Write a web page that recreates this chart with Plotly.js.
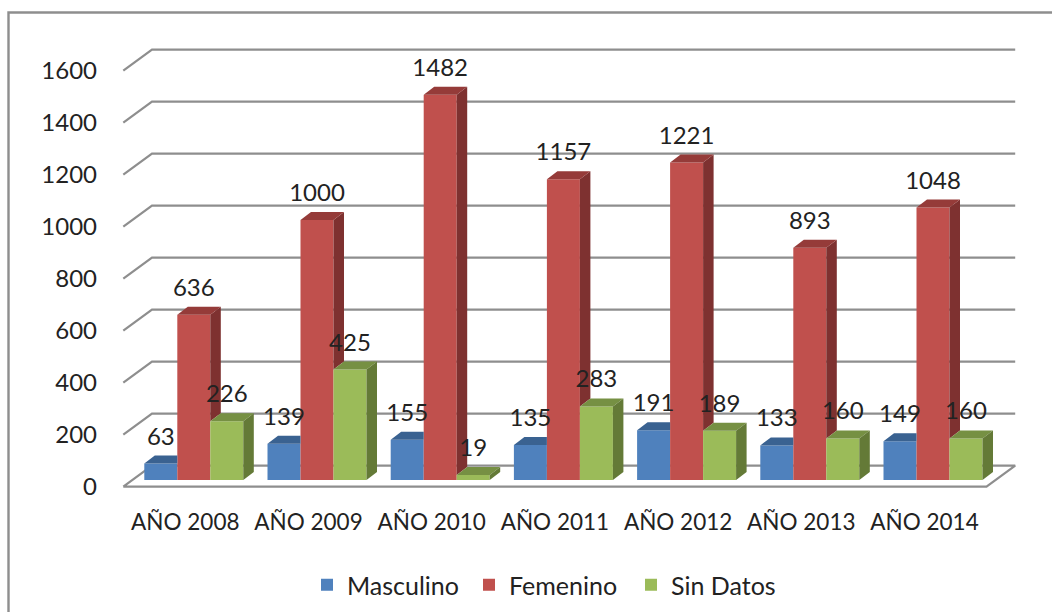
<!DOCTYPE html>
<html><head><meta charset="utf-8">
<script src="https://cdn.plot.ly/plotly-3.0.1.min.js"></script>
<style>html,body{margin:0;padding:0;background:#fff}</style></head>
<body><div id="chart" style="width:1052px;height:613px"></div>
<script>
const categories = ["AÑO 2008","AÑO 2009","AÑO 2010","AÑO 2011","AÑO 2012","AÑO 2013","AÑO 2014"];
const masculino = [63,139,155,135,191,133,149];
const femenino = [636,1000,1482,1157,1221,893,1048];
const sinDatos = [226,425,19,283,189,160,160];
const yTicks = [0,200,400,600,800,1000,1200,1400,1600];

const FONT = "Lato, sans-serif", FS = 24, TXT = "#222222", GRID = "#8e8e8e";
const W = 1052, H = 613, L = 120, R = 1020, T = 40, B = 490;
const PX_GROUP = 123.2, X0 = 193.8, PX_UNIT = 0.26;
const barW = 33 / PX_GROUP;
const wallDx = 28.7 / PX_GROUP, wallDy = 21 / PX_UNIT;
const barDx = 10.5 / PX_GROUP, barDy = 8 / PX_UNIT;
const xFront0 = (123.3 - X0) / PX_GROUP, xFront1 = (986.5 - X0) / PX_GROUP;
const labelUp = 25 / PX_UNIT;
const catShift = 8.5 / PX_GROUP;
const idx = categories.map((_, i) => i);

function poly(build){ const xs=[], ys=[]; idx.forEach(i=>{ build(i).forEach(p=>{xs.push(p[0]);ys.push(p[1]);}); xs.push(null); ys.push(null); }); return {x:xs,y:ys}; }
function face(build,color){ const p=poly(build); return {type:"scatter",mode:"lines",x:p.x,y:p.y,fill:"toself",fillcolor:color,line:{width:0,color:color},xaxis:"x",yaxis:"y2",showlegend:false,hoverinfo:"skip"}; }
const left = (i,s)=> i + (s-1.5)*barW;

// wall and floor lines on the front-plane value axis
const gx=[], gy=[];
yTicks.forEach(v=>{ if(v===0) return; gx.push(xFront0, xFront0+wallDx, xFront1+wallDx, null); gy.push(v, v+wallDy, v+wallDy, null); });
gx.push(xFront0, xFront1, xFront1+wallDx, xFront0+wallDx, xFront0); gy.push(0,0,wallDy,wallDy,0);
const grid = {type:"scatter",mode:"lines",x:gx,y:gy,line:{color:GRID,width:2.2},xaxis:"x",yaxis:"y",showlegend:false,hoverinfo:"skip"};

function bars(name,vals,color){ return {type:"bar",name:name,x:idx,y:vals,marker:{color:color,line:{width:0}},xaxis:"x",yaxis:"y2",hoverinfo:"skip"}; }

const top0 = face(i=>{const l=left(i,0),r=l+barW,h=masculino[i];return [[l,h],[r,h],[r,h+barDy],[l+barDx,h+barDy],[l,h]];},"#3A6291");
const side1 = face(i=>{const r=left(i,1)+barW,h=femenino[i],g=sinDatos[i];return [[r,g],[r,h],[r+barDx,h+barDy],[r+barDx,g+barDy],[r,g]];},"#7E3130");
const top1 = face(i=>{const l=left(i,1),r=l+barW,h=femenino[i];return [[l,h],[r,h],[r+barDx,h+barDy],[l+barDx,h+barDy],[l,h]];},"#953B39");
const top2 = face(i=>{const l=left(i,2),r=l+barW,h=sinDatos[i];return [[l,h],[r,h],[r+barDx,h+barDy],[l+barDx,h+barDy],[l,h]];},"#769043");
const side2 = face(i=>{const r=left(i,2)+barW,h=sinDatos[i];return [[r,0],[r,h],[r+barDx,h+barDy],[r+barDx,barDy],[r,0]];},"#647A37");

function labels(vals,s){ return {type:"scatter",mode:"text",x:idx.map(i=>left(i,s)+barW/2),y:vals.map(v=>v+labelUp),text:vals.map(String),textposition:"middle center",textfont:{family:FONT,size:FS,color:TXT},xaxis:"x",yaxis:"y2",showlegend:false,hoverinfo:"skip",cliponaxis:false}; }

const traces = [grid,
  bars("Masculino",masculino,"#4F81BD"), bars("Femenino",femenino,"#C0504D"), bars("Sin Datos",sinDatos,"#9BBB59"),
  top0, side1, top1, top2, side2,
  labels(masculino,0), labels(femenino,1), labels(sinDatos,2)];

const px2x = px => (px - X0) / PX_GROUP;
const layout = {
  width:W, height:H, autosize:false, showlegend:true, hovermode:false,
  paper_bgcolor:"#fff", plot_bgcolor:"rgba(0,0,0,0)",
  margin:{l:L,r:W-R,t:T,b:H-B,pad:0,autoexpand:false},
  barmode:"group", bargap:1-3*barW, bargroupgap:0,
  font:{family:FONT,size:FS,color:TXT},
  xaxis:{range:[px2x(L),px2x(R)],tickmode:"array",tickvals:idx.map(i=>i-catShift),ticktext:categories,showgrid:false,zeroline:false,showline:false,ticks:"",ticklabelstandoff:16,tickfont:{family:FONT,size:22.5,color:TXT}},
  yaxis:{range:[(486.7-B)/PX_UNIT,(486.7-T)/PX_UNIT],tickmode:"array",tickvals:yTicks,showgrid:false,zeroline:false,showline:false,ticks:"",ticklabelstandoff:22,tickfont:{family:FONT,size:FS,color:TXT}},
  yaxis2:{overlaying:"y",range:[(480-B)/PX_UNIT,(480-T)/PX_UNIT],visible:false,showgrid:false,zeroline:false},
  legend:{orientation:"h",xref:"paper",yref:"paper",x:(307-L)/(R-L),xanchor:"left",y:(B-562)/(B-T),yanchor:"top",entrywidth:117,entrywidthmode:"pixels",font:{family:FONT,size:25,color:TXT},bgcolor:"rgba(0,0,0,0)",traceorder:"normal"},
  shapes:[{type:"path",xref:"paper",yref:"paper",path:`M ${(8.5-L)/(R-L)} ${(B-612)/(B-T)} L ${(8.5-L)/(R-L)} ${(B-12.5)/(B-T)} L ${(1052-L)/(R-L)} ${(B-12.5)/(B-T)}`,line:{color:GRID,width:2.4},layer:"below"}]
};
Plotly.newPlot("chart",traces,layout,{staticPlot:true,displayModeBar:false});
</script></body></html>
